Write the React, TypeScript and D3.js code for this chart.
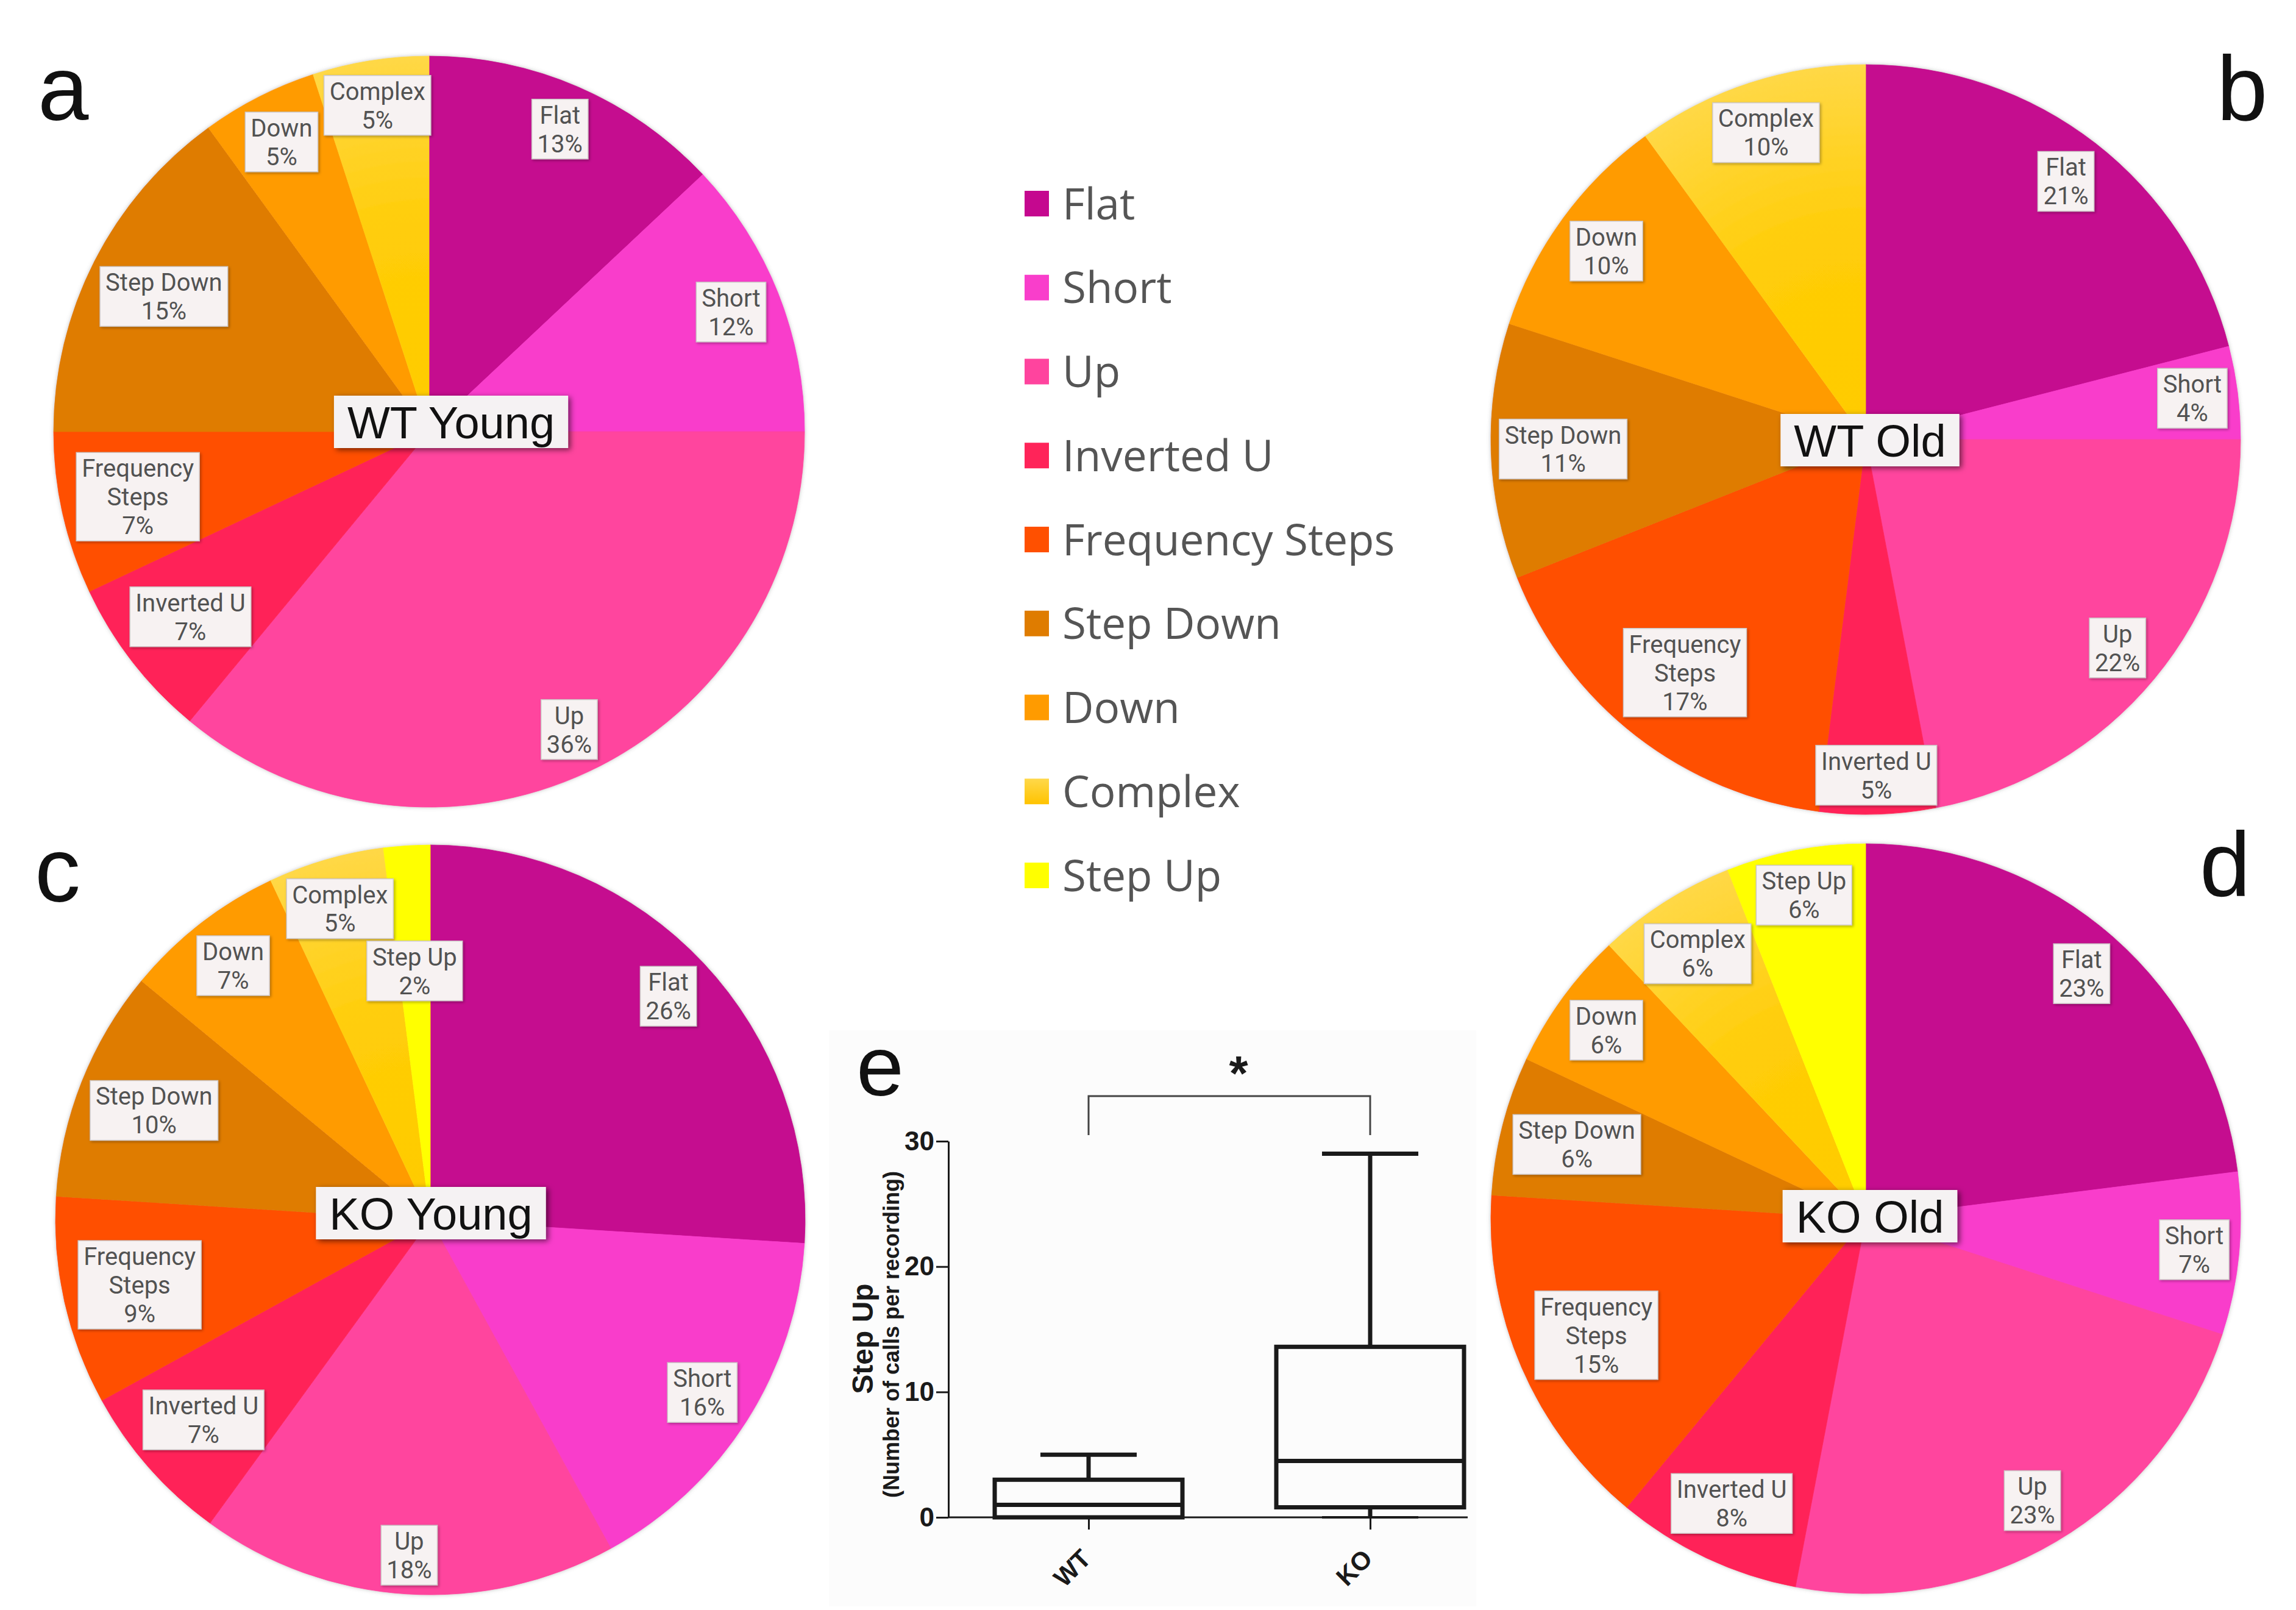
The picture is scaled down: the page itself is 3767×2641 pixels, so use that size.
import React, { useRef, useEffect } from 'react';
import * as d3 from 'd3';

// ---- data ----
const CATEGORIES = ['Flat', 'Short', 'Up', 'Inverted U', 'Frequency Steps', 'Step Down', 'Down', 'Complex', 'Step Up'];
const LABEL_LINES = [['Flat'], ['Short'], ['Up'], ['Inverted U'], ['Frequency', 'Steps'], ['Step Down'], ['Down'], ['Complex'], ['Step Up']];
const SLICE_COLORS = ['#C5088F', '#F93ECB', '#FF449E', '#FF2459', '#FF5000', '#DF7C00', '#FF9B00', '#FFCB00', '#FFFF00'];

const WT_YOUNG = [13, 12, 36, 7, 7, 15, 5, 5, 0];
const WT_OLD = [21, 4, 22, 5, 17, 11, 10, 10, 0];
const KO_YOUNG = [26, 16, 18, 7, 9, 10, 7, 5, 2];
const KO_OLD = [23, 7, 23, 8, 15, 6, 6, 6, 6];
const PIE_VALUES = [WT_YOUNG, WT_OLD, KO_YOUNG, KO_OLD];
const PIE_TITLES = ['WT Young', 'WT Old', 'KO Young', 'KO Old'];
const PIE_LETTERS = ['a', 'b', 'c', 'd'];

const BOX_GROUPS = ['WT', 'KO'];
const BOX_MIN = [0, 0];
const BOX_Q1 = [0, 0.8];
const BOX_MEDIAN = [1, 4.5];
const BOX_Q3 = [3, 13.6];
const BOX_MAX = [5, 29];
const Y_TICKS = [0, 10, 20, 30];

// ---- layout ----
const W = 3767;
const H = 2641;
const PIES = [
  { cx: 704, cy: 708, r: 616, tdx: 36, tdy: -16, lx: 62, ly: 197 },
  { cx: 3061, cy: 721, r: 615, tdx: 7, tdy: 1, lx: 3637, ly: 197 },
  { cx: 706, cy: 2001, r: 615, tdx: 1, tdy: -11, lx: 57, ly: 1479 },
  { cx: 3061, cy: 1999, r: 615, tdx: 7, tdy: -4, lx: 3609, ly: 1470 },
];
const LABEL_FONT = "Roboto, 'Liberation Sans', sans-serif";
const LEGEND_FONT = "'Open Sans', 'Noto Sans', sans-serif";
const ARIAL = "'Liberation Sans', Arial, sans-serif";
const LABEL_SIZE = 40;
const LINE_H = 47;

export default function App() {
  const ref = useRef<SVGSVGElement>(null);

  useEffect(() => {
    if (!ref.current) return;
    document.body.style.margin = '0';
    const svg = d3.select(ref.current);
    svg.selectAll('*').remove();

    const defs = svg.append('defs');
    const f1 = defs.append('filter').attr('id', 'lblShadow')
      .attr('x', '-20%').attr('y', '-20%').attr('width', '140%').attr('height', '140%');
    f1.append('feDropShadow').attr('dx', 2).attr('dy', 2).attr('stdDeviation', 2)
      .attr('flood-color', '#000').attr('flood-opacity', 0.3);
    const f2 = defs.append('filter').attr('id', 'titleShadow')
      .attr('x', '-20%').attr('y', '-40%').attr('width', '140%').attr('height', '180%');
    f2.append('feDropShadow').attr('dx', 4).attr('dy', 3).attr('stdDeviation', 5)
      .attr('flood-color', '#000').attr('flood-opacity', 0.55);
    const f3 = defs.append('filter').attr('id', 'pieShadow')
      .attr('x', '-5%').attr('y', '-5%').attr('width', '110%').attr('height', '110%');
    f3.append('feDropShadow').attr('dx', 0).attr('dy', 0).attr('stdDeviation', 3)
      .attr('flood-color', '#777').attr('flood-opacity', 0.45);
    const lg = defs.append('linearGradient').attr('id', 'complexLegend')
      .attr('x1', 0).attr('y1', 0).attr('x2', 0).attr('y2', 1);
    lg.append('stop').attr('offset', 0).attr('stop-color', '#FFD84A');
    lg.append('stop').attr('offset', 1).attr('stop-color', '#FFC300');

    svg.append('rect').attr('width', W).attr('height', H).attr('fill', '#fff');

    // box plot panel background
    svg.append('rect').attr('x', 1360).attr('y', 1690).attr('width', 1062).attr('height', 945)
      .attr('fill', '#fcfcfc');

    const pie = d3.pie<number>().value(d => d).sort(null);

    PIES.forEach((p, pi) => {
      const arcs = pie(PIE_VALUES[pi]);
      const arc = d3.arc<d3.PieArcDatum<number>>().innerRadius(0).outerRadius(p.r);
      const g = svg.append('g').attr('transform', `translate(${p.cx},${p.cy})`);

      const gradId = `complexGrad${pi}`;
      const rg = defs.append('radialGradient').attr('id', gradId)
        .attr('gradientUnits', 'userSpaceOnUse').attr('cx', 0).attr('cy', 0).attr('r', p.r);
      rg.append('stop').attr('offset', 0).attr('stop-color', '#FFCB00');
      rg.append('stop').attr('offset', 0.55).attr('stop-color', '#FFCD08');
      rg.append('stop').attr('offset', 1).attr('stop-color', '#FFD846');

      const fillOf = (a: d3.PieArcDatum<number>) => (a.index === 7 ? `url(#${gradId})` : SLICE_COLORS[a.index]);

      g.append('g').attr('filter', 'url(#pieShadow)')
        .selectAll('path')
        .data(arcs.filter(a => a.data > 0))
        .join('path')
        .attr('d', arc)
        .attr('fill', fillOf)
        .attr('stroke', fillOf)
        .attr('stroke-width', 0.8);

      // slice labels (inside end, pushed inward when colliding)
      const placed: { x: number; y: number; hw: number; hh: number }[] = [];
      arcs.forEach(a => {
        if (a.data <= 0) return;
        const lines = [...LABEL_LINES[a.index], `${a.data}%`];
        const lab = g.append('g');
        const rect = lab.append('rect');
        const text = lab.append('text')
          .attr('font-family', LABEL_FONT)
          .attr('font-size', LABEL_SIZE)
          .attr('fill', '#525252')
          .attr('text-anchor', 'middle');
        lines.forEach((ln, li) => {
          text.append('tspan')
            .attr('x', 0)
            .attr('y', (li - (lines.length - 1) / 2) * LINE_H)
            .attr('dy', '0.36em')
            .text(ln);
        });
        const tw = (text.node() as SVGTextElement).getBBox().width;
        const bw = tw + 18;
        const bh = lines.length * LINE_H + 4;
        const mid = (a.startAngle + a.endAngle) / 2;
        const s = Math.sin(mid);
        const c = Math.cos(mid);
        let d = p.r - 12 - ((bw / 2) * Math.abs(s) + (bh / 2) * Math.abs(c));
        const overlaps = (x: number, y: number) =>
          placed.some(q => Math.abs(q.x - x) < q.hw + bw / 2 + 3 && Math.abs(q.y - y) < q.hh + bh / 2 + 3);
        let x = d * s;
        let y = -d * c;
        let guard = 0;
        while (overlaps(x, y) && guard++ < 200) {
          d -= 4;
          x = d * s;
          y = -d * c;
        }
        placed.push({ x, y, hw: bw / 2, hh: bh / 2 });
        lab.attr('transform', `translate(${x},${y})`);
        rect.attr('x', -bw / 2).attr('y', -bh / 2).attr('width', bw).attr('height', bh)
          .attr('fill', '#F7F2F2').attr('stroke', '#cdc7c7').attr('stroke-width', 1.5)
          .attr('filter', 'url(#lblShadow)');
      });

      // centre title
      const tg = g.append('g').attr('transform', `translate(${p.tdx},${p.tdy})`);
      const trect = tg.append('rect');
      const tt = tg.append('text')
        .attr('font-family', ARIAL)
        .attr('font-size', 74)
        .attr('fill', '#111')
        .attr('text-anchor', 'middle')
        .attr('dy', '0.36em')
        .text(PIE_TITLES[pi]);
      const ttw = (tt.node() as SVGTextElement).getBBox().width;
      trect.attr('x', -(ttw + 44) / 2).attr('y', -43).attr('width', ttw + 44).attr('height', 86)
        .attr('fill', '#F5F2F3').attr('filter', 'url(#titleShadow)');

      // panel letter
      svg.append('text')
        .attr('x', p.lx).attr('y', p.ly)
        .attr('font-family', ARIAL).attr('font-size', 150).attr('fill', '#111')
        .text(PIE_LETTERS[pi]);
    });

    // legend
    const legend = svg.append('g');
    const rowY = d3.scalePoint<string>().domain(CATEGORIES).range([334, 1436]);
    const rows = legend.selectAll('g').data(CATEGORIES).join('g')
      .attr('transform', d => `translate(0,${rowY(d)})`);
    rows.append('rect')
      .attr('x', 1681).attr('y', -21).attr('width', 40).attr('height', 42)
      .attr('fill', (d, i) => (i === 7 ? 'url(#complexLegend)' : SLICE_COLORS[i]));
    rows.append('text')
      .attr('x', 1743).attr('y', 0).attr('dy', '0.36em')
      .attr('font-family', LEGEND_FONT).attr('font-size', 71).attr('fill', '#555')
      .text(d => d);

    // box plot
    const y = d3.scaleLinear().domain([0, 30]).range([2489, 1872]);
    const x = d3.scalePoint<string>().domain(BOX_GROUPS).range([1786, 2248]);
    const axisX0 = 1556;
    const axisX1 = 2408;
    const ink = '#1a1a1a';

    const yAxis = svg.append('g').attr('transform', `translate(${axisX0},0)`)
      .call(d3.axisLeft(y).tickValues(Y_TICKS).tickSize(20).tickSizeOuter(0).tickPadding(3));
    yAxis.selectAll('path, line').attr('stroke', ink).attr('stroke-width', 3);
    yAxis.selectAll('text')
      .attr('font-family', ARIAL).attr('font-size', 44).attr('font-weight', 'bold').attr('fill', ink);

    svg.append('line')
      .attr('x1', axisX0).attr('x2', axisX1).attr('y1', y(0)).attr('y2', y(0))
      .attr('stroke', ink).attr('stroke-width', 3);
    const xAxis = svg.append('g').attr('transform', `translate(0,${y(0)})`)
      .call(d3.axisBottom(x).tickSize(20).tickFormat(() => ''));
    xAxis.select('.domain').remove();
    xAxis.selectAll('line').attr('stroke', ink).attr('stroke-width', 3);

    svg.selectAll('text.xlab').data(BOX_GROUPS).join('text')
      .attr('class', 'xlab')
      .attr('transform', d => `translate(${(x(d) as number) - 4},2549) rotate(-45)`)
      .attr('text-anchor', 'end').attr('dy', '0.35em')
      .attr('font-family', ARIAL).attr('font-size', 42).attr('font-weight', 'bold').attr('fill', ink)
      .text(d => d);

    const boxW = 308;
    const capW = 158;
    const boxes = svg.append('g').attr('fill', 'none').attr('stroke', ink)
      .attr('stroke-width', 7).attr('stroke-linejoin', 'miter');
    BOX_GROUPS.forEach((grp, i) => {
      const cx = x(grp) as number;
      boxes.append('line').attr('x1', cx).attr('x2', cx).attr('y1', y(BOX_Q3[i])).attr('y2', y(BOX_MAX[i]));
      boxes.append('line').attr('x1', cx).attr('x2', cx).attr('y1', y(BOX_Q1[i])).attr('y2', y(BOX_MIN[i]));
      boxes.append('line').attr('x1', cx - capW / 2).attr('x2', cx + capW / 2)
        .attr('y1', y(BOX_MAX[i])).attr('y2', y(BOX_MAX[i]));
      boxes.append('line').attr('x1', cx - capW / 2).attr('x2', cx + capW / 2)
        .attr('y1', y(BOX_MIN[i])).attr('y2', y(BOX_MIN[i])).attr('stroke-width', 4);
      boxes.append('rect')
        .attr('x', cx - boxW / 2).attr('width', boxW)
        .attr('y', y(BOX_Q3[i])).attr('height', y(BOX_Q1[i]) - y(BOX_Q3[i]));
      boxes.append('line').attr('x1', cx - boxW / 2).attr('x2', cx + boxW / 2)
        .attr('y1', y(BOX_MEDIAN[i])).attr('y2', y(BOX_MEDIAN[i]));
    });

    // significance bracket
    const bx0 = x('WT') as number;
    const bx1 = x('KO') as number;
    svg.append('path')
      .attr('d', `M${bx0},1862V1798H${bx1}V1862`)
      .attr('fill', 'none').attr('stroke', '#444').attr('stroke-width', 3);
    svg.append('text')
      .attr('x', (bx0 + bx1) / 2 + 15).attr('y', 1788)
      .attr('text-anchor', 'middle')
      .attr('font-family', ARIAL).attr('font-size', 80).attr('font-weight', 'bold').attr('fill', ink)
      .text('*');

    // axis titles
    svg.append('text')
      .attr('transform', 'translate(1415,2196) rotate(-90)')
      .attr('text-anchor', 'middle').attr('dy', '0.35em')
      .attr('font-family', ARIAL).attr('font-size', 48).attr('font-weight', 'bold').attr('fill', ink)
      .text('Step Up');
    svg.append('text')
      .attr('transform', 'translate(1462,2189) rotate(-90)')
      .attr('text-anchor', 'middle').attr('dy', '0.35em')
      .attr('font-family', ARIAL).attr('font-size', 36).attr('font-weight', 'bold').attr('fill', ink)
      .text('(Number of calls per recording)');

    svg.append('text')
      .attr('x', 1405).attr('y', 1797)
      .attr('font-family', ARIAL).attr('font-size', 140).attr('fill', '#111')
      .text('e');
  }, []);

  return (
    <svg
      ref={ref}
      width={W}
      height={H}
      style={{ position: 'absolute', left: 0, top: 0, display: 'block' }}
    />
  );
}
